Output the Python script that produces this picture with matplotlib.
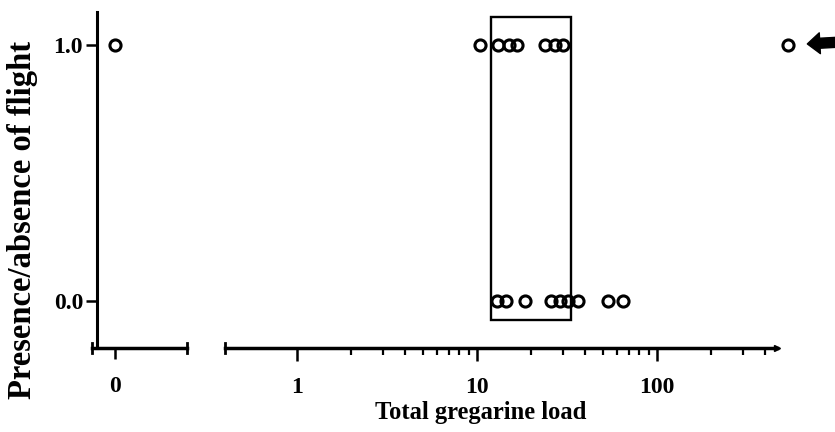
import numpy as np
import matplotlib
matplotlib.use("Agg")
import matplotlib.pyplot as plt
from matplotlib.patches import Rectangle
from matplotlib.ticker import NullFormatter

plt.rcParams['font.family'] = ['Liberation Serif', 'DejaVu Serif']
plt.rcParams['font.weight'] = 'bold'

# uninfected beetle (load 0)
zero_load = [0]
zero_flight = [1.0]

# infected beetles, log scale
load_fly = [10.4, 13.1, 15.1, 16.7, 23.9, 27.1, 30.0]
load_nofly = [12.9, 14.5, 18.5, 25.8, 28.9, 32.0, 36.4, 53.4, 64.7]
outlier_load = 534
outlier_flight = 1.0

# threshold window
box_lo, box_hi = 12.0, 33.3
box_bottom, box_top = -0.074, 1.109

xticks_log = [1, 10, 100]
xtick_labels_log = ['1', '10', '100']
minor_log = [2, 3, 4, 5, 6, 7, 8, 9, 20, 30, 40, 50, 60, 70, 80, 90, 200, 300, 400]

W, H = 835, 432
fig = plt.figure(figsize=(W / 100, H / 100), dpi=100)

def px_axes(x0, x1, y0, y1):
    return fig.add_axes([x0 / W, 1 - y1 / H, (x1 - x0) / W, (y1 - y0) / H])

ylim = (-0.184, 1.129)
lw = 2.2
ms = 8
circ = dict(linestyle='none', marker='o', mfc='none', mec='black', ms=ms, mew=2.2)

ax0 = px_axes(92, 187, 12, 348)
ax1 = px_axes(225, 835, 12, 348)

# left panel: zero load
ax0.set_xlim(-0.23, 0.72)
ax0.set_ylim(*ylim)
ax0.plot(zero_load, zero_flight, clip_on=False, **circ)
for s in ['top', 'right']:
    ax0.spines[s].set_visible(False)
ax0.spines['left'].set_position(('data', -0.18))
ax0.spines['left'].set_linewidth(lw)
ax0.spines['bottom'].set_linewidth(lw + 0.3)
ax0.set_xticks([0])
ax0.set_xticklabels(['0'])
ax0.set_yticks([0.0, 1.0])
ax0.set_yticklabels(['0.0', '1.0'])
ax0.tick_params(axis='y', direction='out', length=8, width=1.8, labelsize=17, pad=2)
ax0.tick_params(axis='x', direction='out', length=8, width=1.8, labelsize=17, pad=12)
ax0.patch.set_visible(False)

# right panel: log load
top_x = 10 ** ((835 - 297) / 180)
ax1.set_xscale('log')
ax1.set_xlim(0.4, top_x)
ax1.set_ylim(*ylim)
ax1.plot(load_fly, [1.0] * len(load_fly), **circ)
ax1.plot(load_nofly, [0.0] * len(load_nofly), **circ)
ax1.plot([outlier_load], [outlier_flight], **circ)
ax1.add_patch(Rectangle((box_lo, box_bottom), box_hi - box_lo, box_top - box_bottom,
                        fill=False, ec='black', lw=1.7))
for s in ['top', 'right', 'left']:
    ax1.spines[s].set_visible(False)
ax1.spines['bottom'].set_linewidth(lw + 0.3)
ax1.spines['bottom'].set_bounds(0.4, 464)
ax1.set_xticks(xticks_log)
ax1.set_xticklabels(xtick_labels_log)
ax1.set_xticks(minor_log, minor=True)
ax1.xaxis.set_minor_formatter(NullFormatter())
ax1.set_yticks([])
ax1.tick_params(axis='x', which='major', direction='out', length=9, width=1.8, labelsize=17, pad=12)
ax1.tick_params(axis='x', which='minor', direction='out', length=5, width=1.6)
ax1.patch.set_visible(False)

# end caps on the axis segments
for ax, xs in [(ax0, [-0.23, 0.72]), (ax1, [0.4])]:
    for xv in xs:
        ax.plot([xv, xv], [ylim[0] - 0.02, ylim[0] + 0.02], color='black', lw=2, clip_on=False)
ax1.plot([464], [ylim[0]], marker='>', color='black', ms=5, clip_on=False)

fig.text(23 / W, 1 - 220 / H, 'Presence/absence of flight', rotation=90,
         ha='center', va='center', fontsize=23.5)
fig.text(481 / W, 1 - 412 / H, 'Total gregarine load', ha='center', va='center', fontsize=17.7)

# arrow flagging the high-load flyer
ax1.annotate('', xy=(outlier_load, outlier_flight), xytext=(36, 2), textcoords='offset points',
             arrowprops=dict(arrowstyle='simple,head_length=0.45,head_width=0.75,tail_width=0.36',
                             mutation_scale=20, color='black', shrinkA=0, shrinkB=14))

fig.savefig('out.png', dpi=100)
